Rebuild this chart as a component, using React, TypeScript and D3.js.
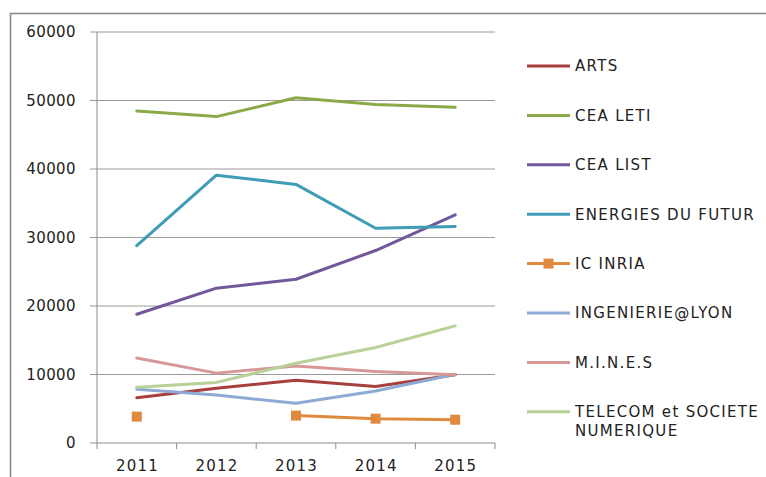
import React from "react";
import * as d3 from "d3";

const years = ["2011", "2012", "2013", "2014", "2015"];
const yTicks = [0, 10000, 20000, 30000, 40000, 50000, 60000];

const seriesNames = [
  "ARTS",
  "CEA LETI",
  "CEA LIST",
  "ENERGIES DU FUTUR",
  "IC INRIA",
  "INGENIERIE@LYON",
  "M.I.N.E.S",
  "TELECOM et SOCIETE NUMERIQUE",
];

const arts = [6600, 8000, 9150, 8250, 9950];
const ceaLeti = [48450, 47650, 50400, 49400, 49000];
const ceaList = [18800, 22600, 23900, 28100, 33300];
const energies = [28800, 39100, 37750, 31350, 31600];
const icInria: (number | null)[] = [3850, null, 4000, 3550, 3400];
const ingenierie = [7850, 7000, 5800, 7600, 10050];
const mines = [12400, 10200, 11250, 10450, 9950];
const telecom = [8150, 8850, 11650, 13950, 17100];

const seriesValues: (number | null)[][] = [arts, ceaLeti, ceaList, energies, icInria, ingenierie, mines, telecom];
const seriesColors = ["#A5403D", "#8AAA48", "#72589A", "#3E9CB5", "#E08A3E", "#8FA9D5", "#D69796", "#B7D196"];
const seriesMarkers = [false, false, false, false, true, false, false, false];

export default function App() {
  const W = 766, H = 477;
  const plotL = 97, plotR = 495, plotT = 32, plotB = 443;
  const x = d3.scaleBand<string>().domain(years).range([plotL, plotR]);
  const y = d3.scaleLinear().domain([0, 60000]).range([plotB, plotT]);
  const cx = (yr: string) => (x(yr) as number) + x.bandwidth() / 2;

  const line = d3
    .line<number | null>()
    .defined((d) => d !== null)
    .x((_, i) => cx(years[i]))
    .y((d) => y(d as number));

  const font = "'DejaVu Sans', sans-serif";
  const legendX1 = 527, legendX2 = 570, legendTextX = 575;
  const legendY0 = 66, legendStep = 49.4;

  return (
    <svg width={W} height={H} style={{ position: "fixed", left: 0, top: 0, background: "#fff" }} fontFamily={font}>
      <rect x={0} y={0} width={W} height={H} fill="#fff" />
      <rect x={10.5} y={13.5} width={W + 20} height={H + 20} fill="none" stroke="#8a8a8a" strokeWidth={1.6} />
      {/* gridlines */}
      {yTicks.map((t) => (
        <g key={t}>
          <line x1={90} x2={plotR} y1={y(t)} y2={y(t)} stroke={t === 0 ? "#8c8c8c" : "#9a9a9a"} strokeWidth={1} />
          <text x={76} y={y(t)} dy="0.36em" textAnchor="end" fontSize={15} letterSpacing={0.4} fill="#222">
            {t}
          </text>
        </g>
      ))}
      {/* y axis */}
      <line x1={plotL} x2={plotL} y1={plotT} y2={plotB} stroke="#8c8c8c" strokeWidth={1} />
      {/* x ticks */}
      {[...years.map((yr) => x(yr) as number), plotR].map((px, i) => (
        <line key={i} x1={px} x2={px} y1={plotB} y2={plotB + 6} stroke="#8c8c8c" strokeWidth={1} />
      ))}
      {years.map((yr) => (
        <text key={yr} x={cx(yr) + 0.6} y={466} dy="0.36em" textAnchor="middle" fontSize={15} letterSpacing={1.2} fill="#222">
          {yr}
        </text>
      ))}
      {/* series */}
      {seriesValues.map((vals, si) => (
        <g key={si}>
          <path d={line(vals) || ""} fill="none" stroke={seriesColors[si]} strokeWidth={3} strokeLinejoin="round" strokeLinecap="round" />
          {seriesMarkers[si] &&
            vals.map((v, i) =>
              v === null ? null : (
                <rect key={i} x={cx(years[i]) - 5} y={y(v) - 5} width={10} height={10} fill={seriesColors[si]} />
              )
            )}
        </g>
      ))}
      {/* legend */}
      {seriesNames.map((name, si) => {
        const ly = legendY0 + si * legendStep;
        const parts = name === "TELECOM et SOCIETE NUMERIQUE" ? ["TELECOM et SOCIETE", "NUMERIQUE"] : [name];
        return (
          <g key={name}>
            <line x1={legendX1} x2={legendX2} y1={ly} y2={ly} stroke={seriesColors[si]} strokeWidth={3} />
            {seriesMarkers[si] && <rect x={(legendX1 + legendX2) / 2 - 5} y={ly - 5} width={10} height={10} fill={seriesColors[si]} />}
            {parts.map((p, pi) => (
              <text key={pi} x={legendTextX} y={ly + pi * 19} dy="0.36em" fontSize={15} letterSpacing={1.3} fill="#222">
                {p}
              </text>
            ))}
          </g>
        );
      })}
    </svg>
  );
}
